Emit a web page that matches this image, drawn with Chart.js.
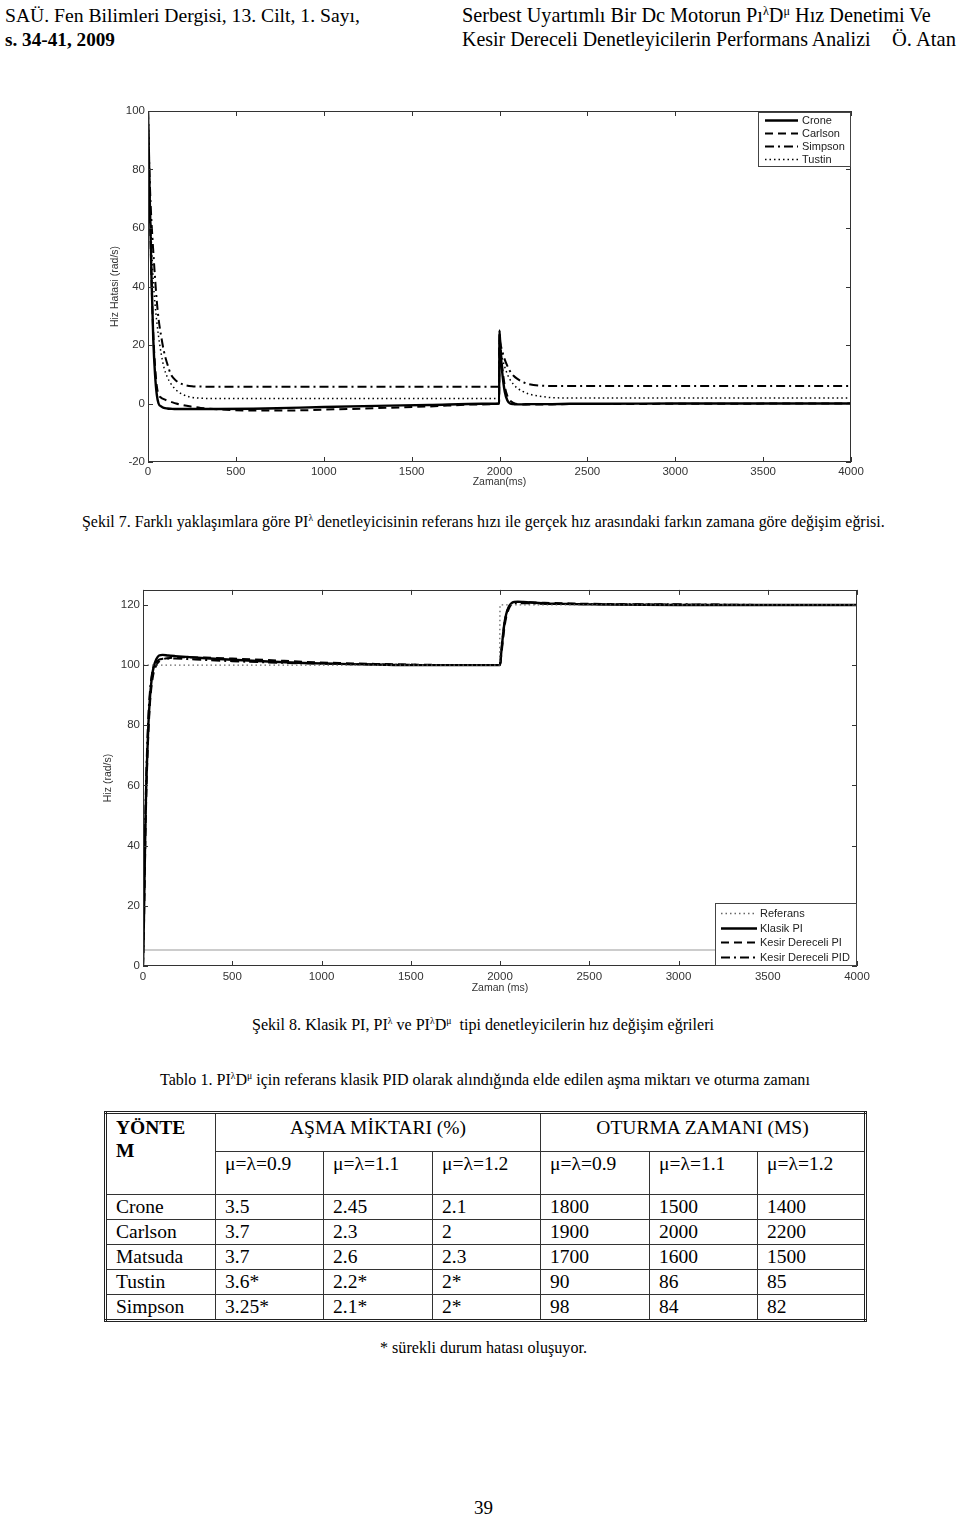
<!DOCTYPE html>
<html lang="tr">
<head>
<meta charset="utf-8">
<title>Şekil 7 - Şekil 8 - Tablo 1</title>
<script src="https://cdn.jsdelivr.net/npm/chart.js@4.4.1/dist/chart.umd.min.js"></script>
<style>
   html, body { margin: 0; padding: 0; background: #fff; }
   body {
      width: 960px; height: 1517px; position: relative; overflow: hidden;
      font-family: "Liberation Serif", "Times New Roman", serif; color: #000;
   }
   .txt { position: absolute; white-space: nowrap; line-height: 24px; font-size: 16px; }
   .txt sup, td sup { font-size: 0.6em; vertical-align: 0.6em; line-height: 0; }
   .chart-box { position: absolute; }
   #tbl-sonuc {
      position: absolute; left: 104px; top: 1111px; width: 760px;
      border-collapse: collapse; table-layout: fixed;
      border: 3px double #222; font-size: 19.5px;
   }
   #tbl-sonuc td {
      border: 1px solid #333; padding: 0 0 0 9px; line-height: 24px;
      vertical-align: middle; white-space: nowrap; overflow: hidden;
   }
   #tbl-sonuc tr.r1 td { height: 35px; vertical-align: top; padding-top: 2px; }
   #tbl-sonuc tr.r2 td { height: 42px; vertical-align: top; }
   #tbl-sonuc tr.rd td { height: 24px; }
   #tbl-sonuc td.center { text-align: center; padding-left: 0; }
   #tbl-sonuc td.yontem { line-height: 23px; font-weight: bold; }
</style>
</head>
<body>

<!-- Başlık -->
<div class="txt" style="left:5px; top:3px;" data-w="355">SAÜ. Fen Bilimleri Dergisi, 13. Cilt, 1. Sayı,</div>
<div class="txt" style="left:5px; top:28px; font-weight:bold;" data-w="110">s. 34-41, 2009</div>
<div class="txt" style="left:462px; top:3px;" data-w="469">Serbest Uyartımlı Bir Dc Motorun Pı<sup>λ</sup>D<sup>μ</sup> Hız Denetimi Ve</div>
<div class="txt" style="left:462px; top:27px;" data-w="409">Kesir Dereceli Denetleyicilerin Performans Analizi</div>
<div class="txt" style="left:892px; top:27px;" data-w="64">Ö. Atan</div>

<!-- Şekil 7 -->
<div class="chart-box" style="left:100px; top:100px; width:800px; height:392px;">
   <canvas id="chart-hata" width="800" height="392"></canvas>
</div>
<div class="txt" style="left:82px; top:510px;" data-w="803">Şekil 7. Farklı yaklaşımlara göre PI<sup>λ</sup> denetleyicisinin referans hızı ile gerçek hız arasındaki farkın zamana göre değişim eğrisi.</div>

<!-- Şekil 8 -->
<div class="chart-box" style="left:95px; top:580px; width:800px; height:416px;">
   <canvas id="chart-hiz" width="800" height="416"></canvas>
</div>
<div class="txt" style="left:252px; top:1013px;" data-w="462">Şekil 8. Klasik PI, PI<sup>λ</sup> ve PI<sup>λ</sup>D<sup>μ</sup>&nbsp; tipi denetleyicilerin hız değişim eğrileri</div>

<!-- Tablo 1 -->
<div class="txt" style="left:160px; top:1068px;" data-w="650">Tablo 1. PI<sup>λ</sup>D<sup>μ</sup> için referans klasik PID olarak alındığında elde edilen aşma miktarı ve oturma zamanı</div>
<table id="tbl-sonuc">
   <colgroup>
      <col style="width:110px"><col style="width:108px"><col style="width:109px"><col style="width:108px">
      <col style="width:109px"><col style="width:108px"><col style="width:108px">
   </colgroup>
   <tr class="r1">
      <td rowspan="2" class="yontem">YÖNTE<br>M</td>
      <td colspan="3" class="center">AŞMA MİKTARI (%)</td>
      <td colspan="3" class="center">OTURMA ZAMANI (MS)</td>
   </tr>
   <tr class="r2">
      <td>μ=λ=0.9</td><td>μ=λ=1.1</td><td>μ=λ=1.2</td><td>μ=λ=0.9</td><td>μ=λ=1.1</td><td>μ=λ=1.2</td>
   </tr>
   <tr class="rd"><td>Crone</td><td>3.5</td><td>2.45</td><td>2.1</td><td>1800</td><td>1500</td><td>1400</td></tr>
   <tr class="rd"><td>Carlson</td><td>3.7</td><td>2.3</td><td>2</td><td>1900</td><td>2000</td><td>2200</td></tr>
   <tr class="rd"><td>Matsuda</td><td>3.7</td><td>2.6</td><td>2.3</td><td>1700</td><td>1600</td><td>1500</td></tr>
   <tr class="rd"><td>Tustin</td><td>3.6*</td><td>2.2*</td><td>2*</td><td>90</td><td>86</td><td>85</td></tr>
   <tr class="rd"><td>Simpson</td><td>3.25*</td><td>2.1*</td><td>2*</td><td>98</td><td>84</td><td>82</td></tr>
</table>
<div class="txt" style="left:380px; top:1336px;" data-w="207">* sürekli durum hatası oluşuyor.</div>

<div class="txt" style="left:474px; top:1496px;" data-w="19">39</div>

<script>
/*** REGION 1 - Global variables - dữ liệu */
//Trục x chung (ms)
var gTicksX = [0, 500, 1000, 1500, 2000, 2500, 3000, 3500, 4000];

//Şekil 7 - hız hatası (rad/s)
var gTicksErrY = [-20, 0, 20, 40, 60, 80, 100];
var gTimeErr = [0, 5, 10, 15, 20, 30, 40, 50, 60, 75, 90, 110, 130, 160, 200, 250, 300, 400, 600, 800,
   1000, 1300, 1600, 1900, 1998, 2000, 2005, 2015, 2030, 2045, 2060, 2080, 2100, 2130, 2170, 2230, 2300,
   2400, 2600, 3000, 4000];
var gCrone = [100, 85, 70, 57, 43, 22, 10, 3, 0, -1, -1.5, -1.7, -1.8, -1.9, -1.9, -1.9, -1.9, -1.9, -1.8, -1.5,
   -1.2, -0.8, -0.5, -0.1, 0, 25, 19, 11, 4, 1, 0, -0.2, -0.3, -0.3, -0.2, -0.2, -0.2, -0.1, -0.1, 0, 0];
var gCarlson = [100, 82, 68, 55, 42, 24, 13, 6, 3, 2, 1.5, 1, 0.6, 0, -0.6, -1.1, -1.5, -2, -2.4, -2.4,
   -2.1, -1.6, -1, -0.3, 0, 24, 20, 13, 6, 2.5, 1, 0.2, -0.2, -0.3, -0.3, -0.3, -0.3, -0.2, -0.2, -0.1, 0];
var gSimpson = [100, 86, 76, 68, 62, 52, 43, 35, 29, 23, 18, 13.5, 10, 7.8, 6.5, 5.9, 5.8, 5.7, 5.7, 5.7,
   5.7, 5.7, 5.7, 5.7, 5.7, 22, 20.5, 18, 15, 12.8, 11, 9.5, 8.5, 7.4, 6.6, 6.1, 6, 6, 6, 6, 6];
var gTustin = [100, 84, 72, 62, 54, 42, 34, 28, 23, 17, 12.5, 9, 6.8, 4.6, 3, 2.1, 1.8, 1.7, 1.7, 1.7,
   1.7, 1.7, 1.7, 1.7, 1.7, 20, 18, 15.5, 12.5, 10, 8.2, 6.5, 5.3, 4.2, 3.2, 2.5, 2, 1.9, 1.9, 1.9, 1.9];

//Şekil 8 - hız (rad/s)
var gTicksSpdY = [0, 20, 40, 60, 80, 100, 120];
var gTimeSpd = [0, 5, 10, 15, 20, 30, 40, 50, 60, 75, 90, 110, 140, 180, 250, 350, 500, 700, 900, 1100,
   1300, 1500, 1800, 1998, 2000, 2005, 2015, 2025, 2035, 2050, 2065, 2080, 2100, 2130, 2170, 2250, 2400,
   2600, 3000, 3500, 4000];
var gReferans = [100, 100, 100, 100, 100, 100, 100, 100, 100, 100, 100, 100, 100, 100, 100, 100, 100, 100, 100, 100,
   100, 100, 100, 100, 120, 120, 120, 120, 120, 120, 120, 120, 120, 120, 120, 120, 120, 120, 120, 120, 120];
var gKlasikPI = [0, 15, 35, 52, 64, 80, 90, 96, 99.5, 102, 103.2, 103.4, 103.2, 103, 102.7, 102.3, 101.8, 101.2, 100.7, 100.4,
   100.2, 100, 100, 100, 100, 103, 109, 114, 117, 119.5, 120.6, 121, 121.1, 121, 120.8, 120.5, 120.3, 120.1, 120, 120, 120];
var gKesirPI = [0, 12, 30, 47, 60, 77, 88, 94, 97.5, 100, 101.2, 101.9, 102.3, 102.5, 102.6, 102.5, 102.2, 101.7, 101.1, 100.7,
   100.4, 100.2, 100, 100, 100, 102, 107.5, 112.5, 116, 118.8, 120.2, 120.8, 121, 121, 120.9, 120.7, 120.5, 120.3, 120.1, 120, 120];
var gKesirPID = [0, 18, 38, 55, 67, 83, 92, 97, 99.5, 101, 101.8, 102.1, 102.2, 102.2, 102, 101.7, 101.3, 100.9, 100.6, 100.4,
   100.2, 100.1, 100, 100, 100, 103, 109, 114, 117, 119.3, 120.2, 120.5, 120.6, 120.6, 120.5, 120.4, 120.3, 120.2, 120.2, 120, 120];
//Đường xám mờ trong hình gốc
var gGrayTime = [0, 4000];
var gGrayLevel = [5.3, 5.3];

/*** REGION 2 - Plugins */
//Khung + vạch chia hướng vào trong (kiểu MATLAB) + chú thích có khung
var gMatlabPlugin = {
   id: "matlabBox",
   afterDatasetsDraw: function (chart, args, options) {
      drawFrame(chart);
      drawBoxLegend(chart, options);
   },
};

function drawFrame(paramChart) {
   var vCtx = paramChart.ctx;
   var vArea = paramChart.chartArea;
   var vX = paramChart.scales.x;
   var vY = paramChart.scales.y;
   vCtx.save();
   vCtx.strokeStyle = "#333";
   vCtx.lineWidth = 1;
   vCtx.setLineDash([]);
   vCtx.beginPath();
   vX.ticks.forEach(function (tick) {
      var vPx = Math.round(vX.getPixelForValue(tick.value)) + 0.5;
      vCtx.moveTo(vPx, vArea.bottom);
      vCtx.lineTo(vPx, vArea.bottom - 5);
      vCtx.moveTo(vPx, vArea.top);
      vCtx.lineTo(vPx, vArea.top + 5);
   });
   vY.ticks.forEach(function (tick) {
      var vPy = Math.round(vY.getPixelForValue(tick.value)) + 0.5;
      vCtx.moveTo(vArea.left, vPy);
      vCtx.lineTo(vArea.left + 5, vPy);
      vCtx.moveTo(vArea.right, vPy);
      vCtx.lineTo(vArea.right - 5, vPy);
   });
   vCtx.stroke();
   vCtx.strokeRect(Math.round(vArea.left) + 0.5, Math.round(vArea.top) + 0.5,
      Math.round(vArea.width) - 1, Math.round(vArea.height) - 1);
   vCtx.restore();
}

function drawBoxLegend(paramChart, paramOpt) {
   var vCtx = paramChart.ctx;
   var vArea = paramChart.chartArea;
   var vLeft = vArea.right - paramOpt.width;
   var vTop = paramOpt.anchor === "bottom" ? vArea.bottom - paramOpt.height : vArea.top + 1;
   vCtx.save();
   vCtx.fillStyle = "#fff";
   vCtx.fillRect(vLeft, vTop, paramOpt.width, paramOpt.height);
   vCtx.strokeStyle = "#444";
   vCtx.lineWidth = 1;
   vCtx.setLineDash([]);
   vCtx.strokeRect(Math.round(vLeft) + 0.5, Math.round(vTop) + 0.5, paramOpt.width - 1, paramOpt.height - 1);
   vCtx.font = "11px 'Liberation Sans', Arial, sans-serif";
   vCtx.textBaseline = "middle";
   var vRow = 0;
   paramChart.data.datasets.forEach(function (ds) {
      if (!ds.label) return;
      var vY = Math.round(vTop + paramOpt.firstRow + vRow * paramOpt.rowH) + 0.5;
      vCtx.strokeStyle = ds.borderColor;
      vCtx.lineWidth = ds.borderWidth;
      vCtx.setLineDash(ds.borderDash || []);
      vCtx.beginPath();
      vCtx.moveTo(vLeft + paramOpt.lineStart, vY);
      vCtx.lineTo(vLeft + paramOpt.lineEnd, vY);
      vCtx.stroke();
      vCtx.fillStyle = "#222";
      vCtx.fillText(ds.label, vLeft + paramOpt.textX, vY + 0.5);
      vRow++;
   });
   vCtx.restore();
}

/*** REGION 3 - Common functions */
function buildPoints(paramTimes, paramValues) {
   return paramTimes.map(function (t, i) {
      return { x: t, y: paramValues[i] };
   });
}

function makeLine(paramLabel, paramTimes, paramValues, paramStyle) {
   return Object.assign(
      {
         label: paramLabel,
         data: buildPoints(paramTimes, paramValues),
         borderColor: "#000",
         borderWidth: 2,
         pointRadius: 0,
         fill: false,
         cubicInterpolationMode: "monotone",
      },
      paramStyle
   );
}

function makeScales(paramTicksY, paramMinY, paramMaxY, paramTitleX, paramTitleY, paramLayout) {
   return {
      x: {
         type: "linear",
         min: 0,
         max: 4000,
         afterBuildTicks: function (scale) {
            scale.ticks = gTicksX.map(function (v) { return { value: v }; });
         },
         afterFit: function (scale) {
            scale.height = paramLayout.xHeight;
         },
         grid: { display: false, drawTicks: false },
         border: { display: false },
         ticks: {
            padding: paramLayout.xTickPad,
            color: "#333",
            font: { size: 11.5 },
            maxRotation: 0,
            callback: function (v) { return String(v); },
         },
         title: {
            display: true,
            text: paramTitleX,
            color: "#333",
            font: { size: 10.5 },
            padding: { top: 0, bottom: paramLayout.xTitlePad },
         },
      },
      y: {
         type: "linear",
         min: paramMinY,
         max: paramMaxY,
         afterBuildTicks: function (scale) {
            scale.ticks = paramTicksY.map(function (v) { return { value: v }; });
         },
         afterFit: function (scale) {
            scale.width = paramLayout.yWidth;
         },
         grid: { display: false, drawTicks: false },
         border: { display: false },
         ticks: {
            padding: 3,
            color: "#333",
            font: { size: 11.5 },
            callback: function (v) { return String(v); },
         },
         title: {
            display: true,
            text: paramTitleY,
            color: "#333",
            font: { size: 10.5 },
            padding: { top: paramLayout.yTitlePad, bottom: 0 },
         },
      },
   };
}

//Chỉnh cỡ chữ để độ rộng dòng chữ khớp với hình gốc
function fitTextWidths() {
   document.querySelectorAll("[data-w]").forEach(function (el) {
      var vTarget = Number(el.dataset.w);
      for (var i = 0; i < 3; i++) {
         var vW = el.getBoundingClientRect().width;
         var vSize = parseFloat(getComputedStyle(el).fontSize);
         el.style.fontSize = ((vSize * vTarget) / vW).toFixed(2) + "px";
      }
   });
}

/*** REGION 4 - Vẽ biểu đồ */
Chart.defaults.font.family = "'Liberation Sans', Arial, sans-serif";
Chart.defaults.animation = false;

//Şekil 7
new Chart(document.getElementById("chart-hata"), {
   type: "line",
   data: {
      datasets: [
         makeLine("Crone", gTimeErr, gCrone, { borderWidth: 2.4 }),
         makeLine("Carlson", gTimeErr, gCarlson, { borderDash: [8, 5] }),
         makeLine("Simpson", gTimeErr, gSimpson, { borderDash: [9, 4, 2, 4] }),
         makeLine("Tustin", gTimeErr, gTustin, { borderWidth: 1.5, borderDash: [1.5, 3] }),
      ],
   },
   options: {
      responsive: false,
      layout: { padding: { top: 11, right: 49, bottom: 0, left: 0 } },
      scales: makeScales(gTicksErrY, -20, 100, "Zaman(ms)", "Hiz Hatasi (rad/s)", {
         xHeight: 30, xTickPad: 3, xTitlePad: 4, yWidth: 48, yTitlePad: 9,
      }),
      plugins: {
         legend: { display: false },
         tooltip: { enabled: false },
         matlabBox: { anchor: "top", width: 93, height: 55, firstRow: 8, rowH: 13.1, lineStart: 7, lineEnd: 40, textX: 44 },
      },
   },
   plugins: [gMatlabPlugin],
});

//Şekil 8
new Chart(document.getElementById("chart-hiz"), {
   type: "line",
   data: {
      datasets: [
         makeLine("Referans", gTimeSpd, gReferans, { borderColor: "#666", borderWidth: 1.3, borderDash: [1.5, 3], cubicInterpolationMode: "default", tension: 0 }),
         makeLine("Klasik PI", gTimeSpd, gKlasikPI, { borderWidth: 2.4 }),
         makeLine("Kesir Dereceli PI", gTimeSpd, gKesirPI, { borderDash: [8, 5] }),
         makeLine("Kesir Dereceli PID", gTimeSpd, gKesirPID, { borderDash: [9, 4, 2, 4] }),
         makeLine("", gGrayTime, gGrayLevel, { borderColor: "#bbb", borderWidth: 1.5 }),
      ],
   },
   options: {
      responsive: false,
      layout: { padding: { top: 9, right: 38, bottom: 0, left: 0 } },
      scales: makeScales(gTicksSpdY, 0, 125, "Zaman (ms)", "Hiz (rad/s)", {
         xHeight: 30, xTickPad: 4, xTitlePad: 2, yWidth: 48, yTitlePad: 7,
      }),
      plugins: {
         legend: { display: false },
         tooltip: { enabled: false },
         matlabBox: { anchor: "bottom", width: 142, height: 63, firstRow: 10, rowH: 14.6, lineStart: 6, lineEnd: 42, textX: 45 },
      },
   },
   plugins: [gMatlabPlugin],
});

fitTextWidths();
</script>
</body>
</html>
